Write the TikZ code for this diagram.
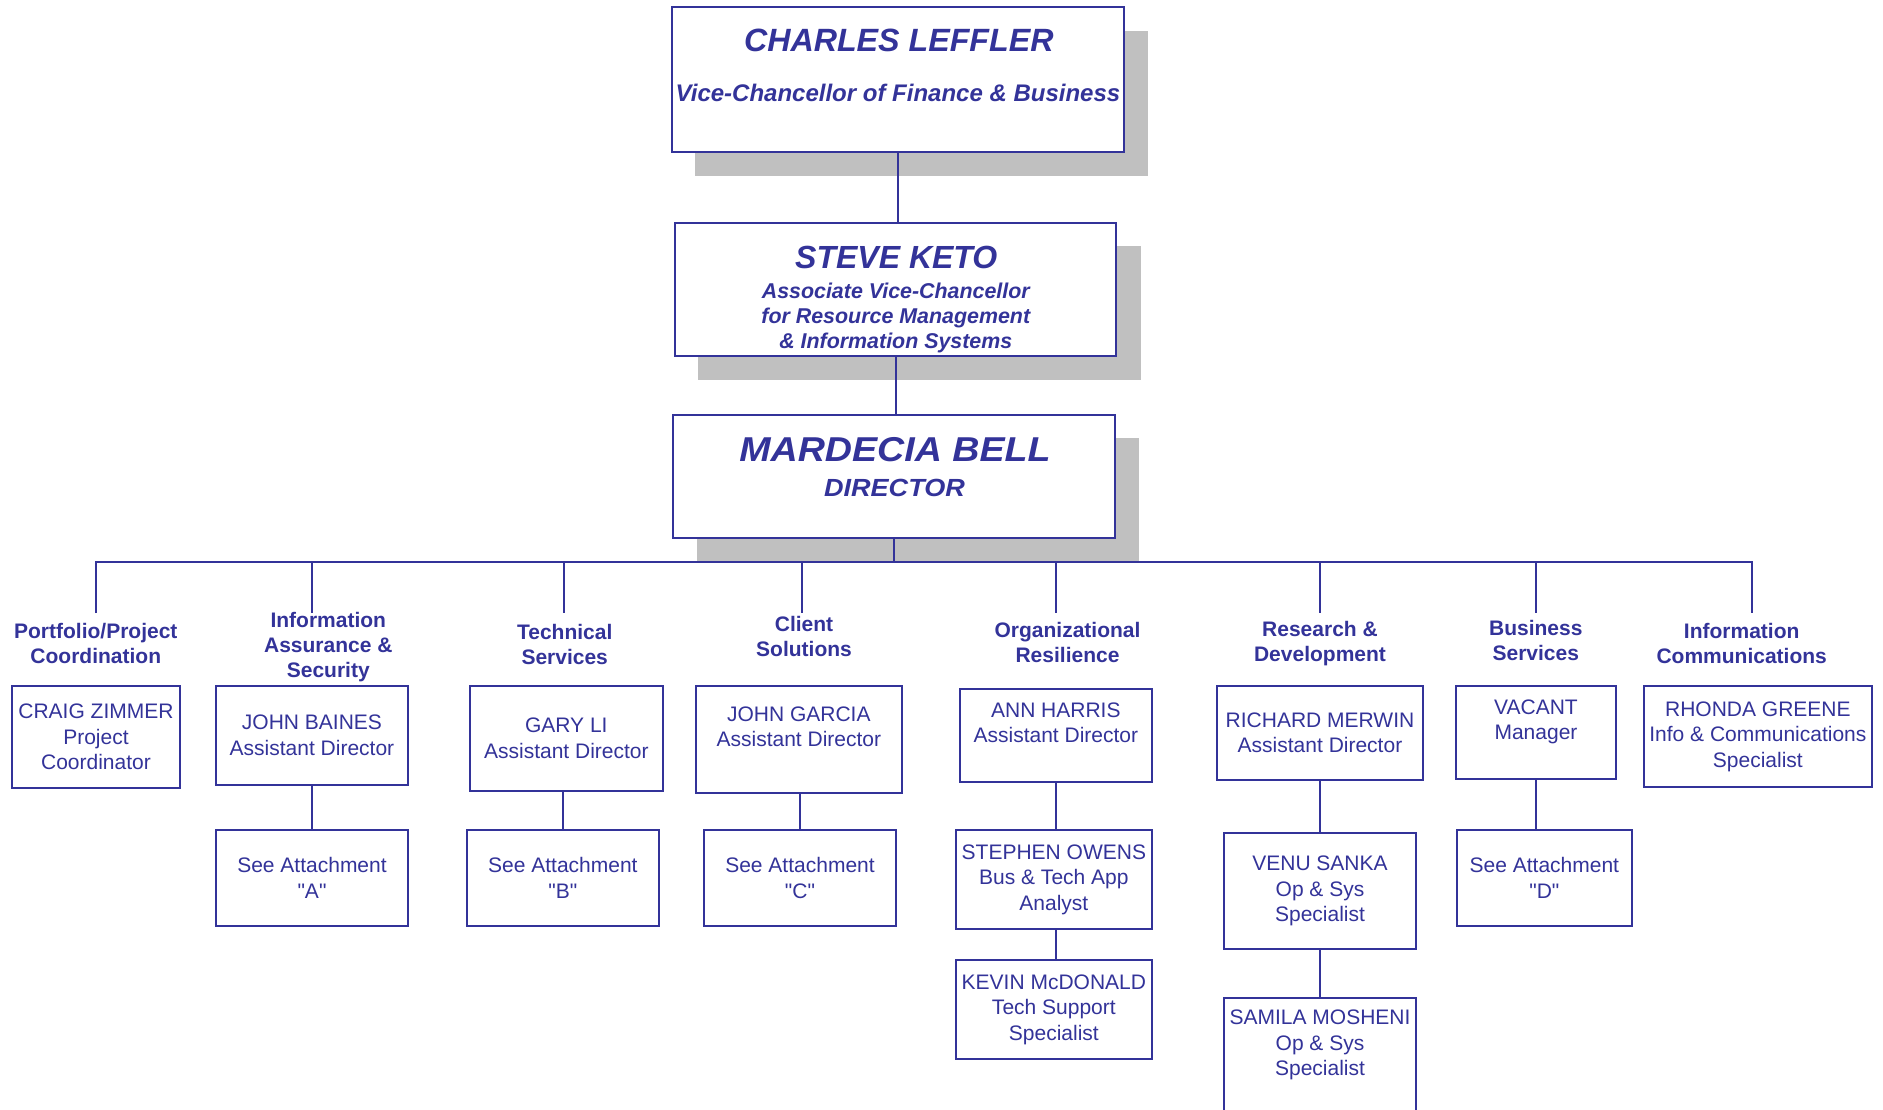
\documentclass[tikz,border=0pt]{standalone}
\usepackage{fontspec}
\setmainfont{Liberation Sans}
\newfontfamily\widefont[FakeStretch=1.09]{Liberation Sans}
\definecolor{orgblue}{RGB}{51,51,153}
\definecolor{shadowgray}{RGB}{192,192,192}
\tikzset{
  box/.style={draw=orgblue, line width=2pt, fill=white, inner sep=1pt, align=center,
    text=orgblue, font=\fontsize{21}{25.5}\selectfont},
  topbox/.style={draw=orgblue, line width=2pt, fill=white, inner sep=0pt},
  head/.style={text=orgblue, align=center, inner sep=0pt, anchor=base,
    font=\bfseries\fontsize{21}{25}\selectfont},
  toptext/.style={text=orgblue, inner sep=0pt, anchor=base, align=center},
  conn/.style={draw=orgblue, line width=2pt},
  shade/.style={fill=shadowgray}
}
\begin{document}
\begin{tikzpicture}[x=1pt,y=-1pt]
\useasboundingbox (0,0) rectangle (1883,1110);
\clip (0,0) rectangle (1883,1110);

% shadows
\fill[shade] (695,31) rectangle (1148.3,176);
\fill[shade] (698.3,245.7) rectangle (1140.7,380.4);
\fill[shade] (696.7,438.2) rectangle (1139.3,561.5);

% top boxes
\node[topbox, minimum width=452.3pt, minimum height=145pt] (charles) at (897.85,79.8) {};
\node[topbox, minimum width=441pt, minimum height=133pt] (steve) at (895.5,289.2) {};
\node[topbox, minimum width=441.4pt, minimum height=123pt] (mardecia) at (894,476) {};

\node[toptext, font=\bfseries\itshape\fontsize{32.2}{34}\selectfont] (charlesname) at (898.8,51.7) {CHARLES LEFFLER};
\node[toptext, font=\bfseries\itshape\fontsize{24}{26}\selectfont] (charlestitle) at (898,101.7) {Vice-Chancellor of Finance \& Business};
\node[toptext, font=\bfseries\itshape\fontsize{32}{34}\selectfont] (stevename) at (896.3,269) {STEVE KETO};
\node[toptext, font=\bfseries\itshape\fontsize{21.4}{24.7}\selectfont] (stevetitle) at (895.8,348.3) {Associate Vice-Chancellor\\for Resource Management\\\& Information Systems};
\node[toptext, font=\widefont\bfseries\itshape\fontsize{34.5}{37}\selectfont] (mardecianame) at (895,461.7) {MARDECIA BELL};
\node[toptext, font=\widefont\bfseries\itshape\fontsize{24.8}{27}\selectfont] (mardeciatitle) at (894.5,496) {DIRECTOR};

% top connectors
\draw[conn] (charles.south) -- (charles.south |- steve.north);
\draw[conn] (steve.south) -- (steve.south |- mardecia.north);

% bus
\coordinate (b1) at (96,561.5);
\coordinate (b2) at (312,561.5);
\coordinate (b3) at (564.3,561.5);
\coordinate (b4) at (802.3,561.5);
\coordinate (b5) at (1056,561.5);
\coordinate (b6) at (1320,561.5);
\coordinate (b7) at (1536,561.5);
\coordinate (b8) at (1751.7,561.5);
\coordinate (d1) at (96,613);
\coordinate (d2) at (312,613);
\coordinate (d3) at (564.3,613);
\coordinate (d4) at (802.3,613);
\coordinate (d5) at (1056,613);
\coordinate (d6) at (1320,613);
\coordinate (d7) at (1536,613);
\coordinate (d8) at (1751.7,613);
\draw[conn] (mardecia.south) -- (mardecia.south |- b1);
\draw[conn] (d1) -- (b1) -- (b8) -- (d8);
\draw[conn] (b2) -- (d2);
\draw[conn] (b3) -- (d3);
\draw[conn] (b4) -- (d4);
\draw[conn] (b5) -- (d5);
\draw[conn] (b6) -- (d6);
\draw[conn] (b7) -- (d7);

% headers
\node[head] (h1) at (95.8,663.3) {Portfolio/Project\\Coordination};
\node[head] (h2) at (328.3,677.7) {Information\\Assurance \&\\Security};
\node[head] (h3) at (564.7,664) {Technical\\Services};
\node[head] (h4) at (804,656.7) {Client\\Solutions};
\node[head] (h5) at (1067.5,662.5) {Organizational\\Resilience};
\node[head] (h6) at (1320,661.4) {Research \&\\Development};
\node[head] (h7) at (1535.8,660.7) {Business\\Services};
\node[head] (h8) at (1741.7,663.3) {Information\\Communications};

% boxes
\node[box, minimum width=167.4pt, minimum height=102pt] (craig) at (96,737) {CRAIG ZIMMER\\Project\\Coordinator};
\node[box, minimum width=192pt, minimum height=99pt] (baines) at (312,735.5) {JOHN BAINES\\Assistant Director};
\node[box, minimum width=192pt, minimum height=95.7pt] (attA) at (312,877.85) {See Attachment\\\textquotedbl A\textquotedbl};
\node[box, minimum width=192.7pt, minimum height=104.7pt] (gary) at (566.35,738.35) {GARY LI\\Assistant Director};
\node[box, minimum width=192.3pt, minimum height=95.7pt] (attB) at (562.85,877.85) {See Attachment\\\textquotedbl B\textquotedbl};
\node[box, minimum width=206.3pt, minimum height=107.3pt] (garcia) at (798.85,739.65) {JOHN GARCIA\\Assistant Director\\\mbox{}};
\node[box, minimum width=192pt, minimum height=95.7pt] (attC) at (800,877.85) {See Attachment\\\textquotedbl C\textquotedbl};
\node[box, minimum width=192.3pt, minimum height=92.7pt] (harris) at (1055.85,735.35) {ANN HARRIS\\Assistant Director\\\mbox{}};
\node[box, minimum width=196.3pt, minimum height=98.4pt] (owens) at (1053.85,879.5) {STEPHEN OWENS\\Bus \& Tech App\\Analyst};
\node[box, minimum width=196.3pt, minimum height=99.3pt] (kevin) at (1053.85,1009.65) {KEVIN McDONALD\\Tech Support\\Specialist};
\node[box, minimum width=206pt, minimum height=94.3pt] (merwin) at (1320,732.85) {RICHARD MERWIN\\Assistant Director};
\node[box, minimum width=192pt, minimum height=116.3pt] (venu) at (1320,891.15) {VENU SANKA\\Op \& Sys\\Specialist};
\node[box, minimum width=192pt, minimum height=141.6pt] (samila) at (1320,1068.5) {SAMILA MOSHENI\\Op \& Sys\\Specialist\\\mbox{}\\\mbox{}};
\node[box, minimum width=159.4pt, minimum height=93pt] (vacant) at (1536,732.5) {VACANT\\Manager\\\mbox{}};
\node[box, minimum width=175.3pt, minimum height=95.7pt] (attD) at (1544.35,877.85) {See Attachment\\\textquotedbl D\textquotedbl};
\node[box, minimum width=228.3pt, minimum height=101pt] (rhonda) at (1757.85,736.5) {RHONDA GREENE\\Info \& Communications\\Specialist};

% lower connectors
\draw[conn] (baines.south) -- (attA.north);
\draw[conn] (attB.north |- gary.south) -- (attB.north);
\draw[conn] (garcia.south -| attC.north) -- (attC.north);
\draw[conn] (harris.south) -- (harris.south |- owens.north);
\draw[conn] (owens.south -| harris.south) -- (kevin.north -| harris.south);
\draw[conn] (merwin.south) -- (venu.north);
\draw[conn] (venu.south) -- (samila.north);
\draw[conn] (vacant.south) -- (vacant.south |- attD.north);
\end{tikzpicture}
\end{document}
